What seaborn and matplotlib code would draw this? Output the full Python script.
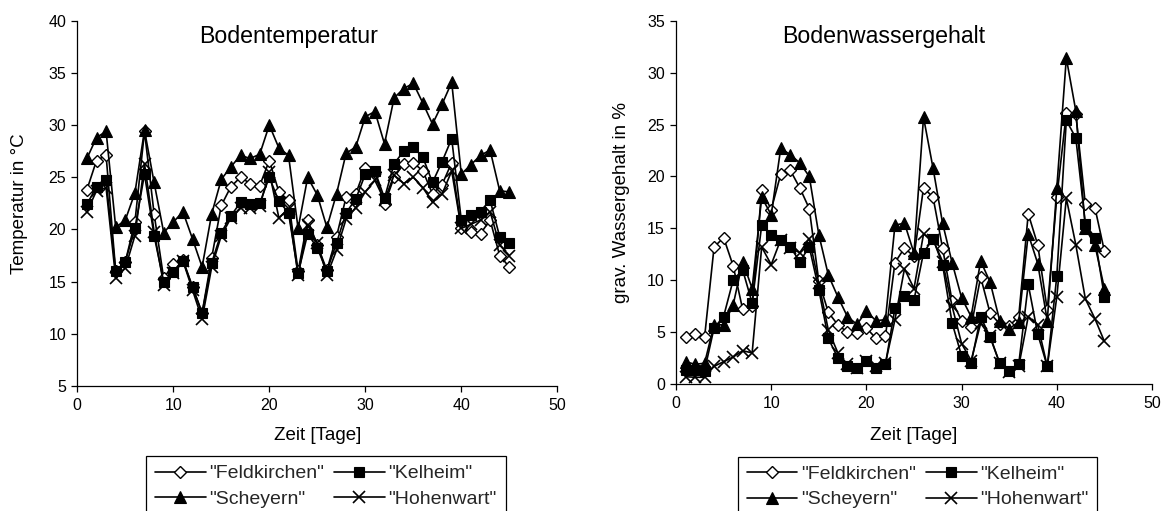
import matplotlib
matplotlib.use("Agg")
import matplotlib.pyplot as plt
import seaborn as sns

days = list(range(1, 46))

temp_feldkirchen = [23.8, 26.6, 27.1, 16.0, 16.9, 20.7, 29.4, 21.5, 15.3, 16.7,
                    17.1, 14.5, 12.0, 17.3, 22.3, 24.1, 25.0, 24.4, 24.2, 26.6,
                    23.6, 22.8, 16.0, 20.9, 18.5, 16.1, 19.3, 23.1, 23.4, 25.9,
                    25.5, 22.4, 25.0, 26.3, 26.4, 25.6, 23.4, 24.3, 26.4, 20.1,
                    19.8, 19.6, 20.9, 17.5, 16.4]
temp_kelheim = [22.4, 24.1, 24.7, 16.0, 16.9, 20.1, 25.3, 19.4, 15.0, 15.9,
                17.0, 14.5, 12.0, 16.8, 19.7, 21.3, 22.6, 22.4, 22.5, 25.0,
                22.7, 21.6, 15.8, 19.6, 18.2, 16.0, 18.7, 21.6, 22.9, 25.3,
                25.6, 23.0, 26.3, 27.5, 27.9, 26.9, 24.5, 26.5, 28.7, 20.9,
                21.4, 21.7, 22.8, 19.3, 18.7]
temp_scheyern = [26.8, 28.8, 29.4, 20.2, 20.9, 23.5, 29.5, 24.5, 19.7, 20.7,
                 21.7, 19.1, 16.4, 21.5, 24.8, 26.0, 27.1, 26.8, 27.2, 30.0,
                 27.8, 27.1, 20.1, 25.0, 23.3, 20.2, 23.4, 27.3, 27.9, 30.8,
                 31.3, 28.2, 32.6, 33.5, 34.0, 32.1, 30.1, 32.0, 34.1, 25.3,
                 26.2, 27.1, 27.6, 23.7, 23.6]
temp_hohenwart = [21.7, 23.7, 24.0, 15.3, 16.3, 19.4, 26.3, 19.8, 14.7, 15.8,
                  17.0, 14.2, 11.4, 16.4, 19.4, 21.1, 22.1, 22.1, 22.2, 25.5,
                  21.1, 22.0, 15.6, 20.4, 18.7, 15.6, 18.0, 21.0, 22.1, 23.6,
                  24.7, 22.8, 25.2, 24.4, 25.0, 24.0, 22.6, 23.4, 25.6, 20.1,
                  20.5, 20.9, 21.7, 18.5, 17.5]

water_feldkirchen = [4.5, 4.8, 4.5, 13.2, 14.1, 11.4, 7.2, 7.5, 18.7, 16.8,
                     20.2, 20.6, 18.9, 16.9, 9.9, 6.9, 5.7, 5.0, 4.9, 5.4,
                     4.4, 4.6, 11.7, 13.1, 12.3, 18.9, 18.0, 13.1, 8.0, 6.1,
                     5.5, 10.3, 6.8, 5.8, 5.6, 6.5, 16.4, 13.4, 7.1, 18.0,
                     26.1, 26.0, 17.3, 17.0, 12.8]
water_kelheim = [1.35, 1.35, 1.3, 5.4, 6.5, 10.0, 11.0, 7.8, 15.3, 14.35,
                 13.9, 13.2, 11.8, 13.2, 9.1, 4.4, 2.5, 1.7, 1.5, 2.25,
                 1.5, 1.9, 7.3, 8.5, 8.1, 12.65, 14.0, 11.5, 5.9, 2.7,
                 2.0, 6.5, 4.5, 2.0, 1.25, 1.9, 9.6, 4.8, 1.7, 10.4,
                 25.4, 23.7, 15.4, 14.1, 8.4]
water_scheyern = [2.15, 1.9, 2.0, 5.7, 5.7, 7.6, 11.8, 9.2, 18.0, 16.3,
                  22.7, 22.1, 21.3, 20.0, 14.4, 10.5, 8.4, 6.5, 5.75, 7.0,
                  6.1, 6.2, 15.3, 15.5, 12.6, 25.7, 20.8, 15.5, 11.7, 8.3,
                  6.5, 11.85, 9.8, 6.1, 5.3, 6.0, 14.45, 11.6, 6.1, 18.9,
                  31.4, 26.3, 15.0, 13.4, 9.2]
water_hohenwart = [0.7, 0.65, 0.65, 1.7, 2.15, 2.6, 3.2, 3.0, 13.2, 11.5,
                   13.9, 13.1, 12.65, 14.0, 9.7, 5.2, 3.0, 1.9, 1.5, 2.2,
                   1.7, 2.0, 6.2, 11.1, 9.2, 14.45, 13.9, 11.8, 7.5, 3.9,
                   2.25, 5.85, 4.6, 2.0, 1.2, 1.7, 6.5, 5.7, 1.7, 8.4,
                   17.9, 13.4, 8.2, 6.3, 4.1]

site_names = ["Feldkirchen", "Kelheim", "Scheyern", "Hohenwart"]
temp_series = [temp_feldkirchen, temp_kelheim, temp_scheyern, temp_hohenwart]
water_series = [water_feldkirchen, water_kelheim, water_scheyern, water_hohenwart]

x_ticks = [0, 10, 20, 30, 40, 50]
temp_ticks = [5, 10, 15, 20, 25, 30, 35, 40]
water_ticks = [0, 5, 10, 15, 20, 25, 30, 35]

sns.set_style("white")
plt.rcParams["font.family"] = ["Liberation Sans", "DejaVu Sans"]

marker_styles = {
    "Feldkirchen": dict(marker="D", markerfacecolor="white", markeredgecolor="black",
                        markersize=6.0, markeredgewidth=1.0),
    "Kelheim": dict(marker="s", markerfacecolor="black", markeredgecolor="black",
                    markersize=6.5, markeredgewidth=0.8),
    "Scheyern": dict(marker="^", markerfacecolor="black", markeredgecolor="black",
                     markersize=8.0, markeredgewidth=0.8),
    "Hohenwart": dict(marker="x", markerfacecolor="black", markeredgecolor="black",
                      markersize=8.0, markeredgewidth=1.2),
}

W, H = 1170, 511
fig = plt.figure(figsize=(W / 100, H / 100), dpi=100)
ax1 = fig.add_axes([77.3 / W, 1 - 386 / H, 480 / W, 365.3 / H])
ax2 = fig.add_axes([676 / W, 1 - 384 / H, 476 / W, 363.3 / H])


def draw(ax, series, ticks, title, title_xy, ylabel, ylabel_x, xlabel_y, leg_anchor):
    for name, vals in zip(site_names, series):
        sns.lineplot(x=days, y=vals, ax=ax, color="black", linewidth=1.2,
                     label='"%s"' % name, legend=False, **marker_styles[name])
    ax.set_xlim(0, 50)
    ax.set_ylim(ticks[0], ticks[-1])
    ax.set_xticks(x_ticks)
    ax.set_yticks(ticks)
    for side in ("top", "right"):
        ax.spines[side].set_visible(False)
    for side in ("left", "bottom"):
        ax.spines[side].set_color("black")
        ax.spines[side].set_linewidth(0.9)
    ax.tick_params(axis="both", direction="out", length=4, width=0.9,
                   color="black", labelsize=11.5, labelcolor="black",
                   left=True, bottom=True)
    ax.tick_params(axis="x", pad=5)
    ax.tick_params(axis="y", pad=4)
    ax.set_xlabel("Zeit [Tage]", fontsize=13.5, color="black")
    ax.set_ylabel(ylabel, fontsize=13.5, color="black")
    ax.xaxis.set_label_coords(0.5, xlabel_y)
    ax.yaxis.set_label_coords(ylabel_x, 0.5)
    ax.text(title_xy[0], title_xy[1], title, transform=ax.transAxes,
            fontsize=16.7, ha="left", va="baseline", color="black")
    handles, labels = ax.get_legend_handles_labels()
    order = [0, 2, 1, 3]
    leg = ax.legend([handles[i] for i in order], [labels[i] for i in order],
                    loc="upper center", bbox_to_anchor=leg_anchor, ncol=2,
                    frameon=True, fancybox=False, framealpha=1, edgecolor="black",
                    fontsize=14, handlelength=2.6, handletextpad=0.2,
                    columnspacing=0.5, borderpad=0.45, labelspacing=0.4,
                    borderaxespad=0)
    leg.get_frame().set_linewidth(0.9)


draw(ax1, temp_series, temp_ticks, "Bodentemperatur", (0.254, 0.938),
     "Temperatur in °C", -0.103, -0.112, (0.518, -0.192))
draw(ax2, water_series, water_ticks, "Bodenwassergehalt", (0.224, 0.938),
     "grav. Wassergehalt in %", -0.097, -0.118, (0.508, -0.200))

fig.savefig("out.png", dpi=100, facecolor="white")
